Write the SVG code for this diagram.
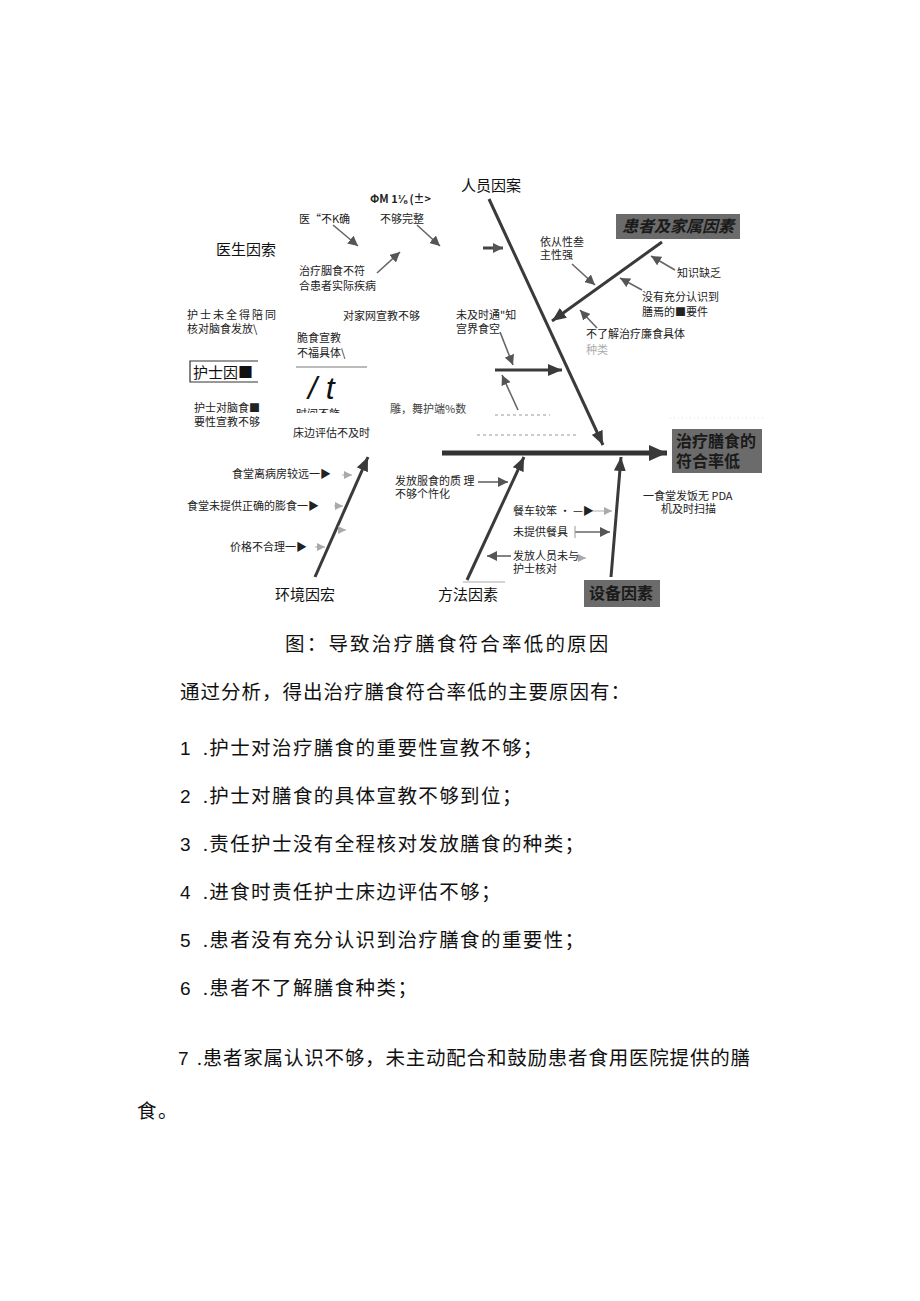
<svg xmlns="http://www.w3.org/2000/svg" width="920" height="1301" viewBox="0 0 920 1301">
<style>
.t{font-family:"Noto Sans CJK SC","Liberation Sans",sans-serif;font-size:11px;fill:#222}
.ts{letter-spacing:2px}
.cat{font-family:"Noto Sans CJK SC","Liberation Sans",sans-serif;font-size:15px;fill:#111}
.box{fill:#6b6b6b}
.bt{font-family:"Noto Sans CJK SC","Liberation Sans",sans-serif;font-size:16px;font-weight:bold;fill:#1a1a1a}
.body{font-family:"Liberation Serif","Noto Sans CJK SC",serif;font-size:19.5px;letter-spacing:1.4px;fill:#111}
.num{font-family:"Liberation Sans","Noto Sans CJK SC",sans-serif;font-size:19px;fill:#111;letter-spacing:0}
.main{stroke:#3a3a3a;stroke-width:3;fill:none}
.sm{stroke:#666;stroke-width:1.6;fill:none}
.fa{stroke:#bbb;stroke-width:1.2;fill:none}
</style>
<defs>
<marker id="ab" markerUnits="userSpaceOnUse" markerWidth="20" markerHeight="16" refX="18" refY="8" orient="auto"><path d="M0,0 L18,8 L0,16 z" fill="#3a3a3a"/></marker>
<marker id="am" markerUnits="userSpaceOnUse" markerWidth="16" markerHeight="12" refX="14" refY="6" orient="auto"><path d="M0,0 L14,6 L0,12 z" fill="#3a3a3a"/></marker>
<marker id="as" markerUnits="userSpaceOnUse" markerWidth="12" markerHeight="10" refX="10" refY="5" orient="auto"><path d="M0,0 L10,5 L0,10 z" fill="#555"/></marker>
<marker id="af" markerUnits="userSpaceOnUse" markerWidth="10" markerHeight="8" refX="8" refY="4" orient="auto"><path d="M0,0 L8,4 L0,8 z" fill="#aaa"/></marker>
<clipPath id="cut"><rect x="290" y="400" width="80" height="13"/></clipPath>
</defs>
<rect width="920" height="1301" fill="#fff"/>

<g id="connectors">
<line x1="442" y1="453" x2="667" y2="453" stroke="#333" stroke-width="5" marker-end="url(#ab)"/>
<line class="main" x1="489" y1="199" x2="603" y2="445" marker-end="url(#am)"/>
<line class="main" x1="662" y1="242" x2="552" y2="321" marker-end="url(#am)"/>
<line class="main" x1="315" y1="577" x2="368" y2="457" marker-end="url(#am)"/>
<line class="main" x1="467" y1="580" x2="524" y2="457" marker-end="url(#am)"/>
<line class="main" x1="611" y1="577" x2="621" y2="457" marker-end="url(#am)"/>
<line class="main" x1="495" y1="370" x2="562" y2="370" marker-end="url(#am)"/>
<line stroke="#444" stroke-width="3" x1="483" y1="248" x2="503" y2="248" marker-end="url(#as)"/>
<line class="sm" x1="333" y1="225" x2="358" y2="246" marker-end="url(#as)"/>
<line class="sm" x1="417" y1="225" x2="440" y2="246" marker-end="url(#as)"/>
<line class="sm" x1="377" y1="273" x2="400" y2="252" marker-end="url(#as)"/>
<line class="sm" x1="572" y1="264" x2="595" y2="285" marker-end="url(#as)"/>
<line class="sm" x1="675" y1="270" x2="651" y2="256" marker-end="url(#as)"/>
<line class="sm" x1="642" y1="290" x2="620" y2="278" marker-end="url(#as)"/>
<line class="sm" x1="597" y1="328" x2="580" y2="310" marker-end="url(#as)"/>
<line class="sm" x1="500" y1="332" x2="513" y2="365" marker-end="url(#as)"/>
<line class="sm" x1="518" y1="410" x2="502" y2="375" marker-end="url(#as)"/>
<line class="sm" x1="478" y1="482" x2="508" y2="482" marker-end="url(#as)"/>
<line class="sm" x1="575" y1="532" x2="610" y2="532" marker-end="url(#as)"/>
<line class="sm" x1="511" y1="556" x2="487" y2="556" marker-end="url(#as)"/>
<line class="fa" x1="585" y1="511" x2="612" y2="511" marker-end="url(#af)"/>
<line class="fa" x1="578" y1="558" x2="586" y2="558" marker-end="url(#af)"/>
<line class="fa" x1="342" y1="475" x2="352" y2="475" marker-end="url(#af)"/>
<line class="fa" x1="334" y1="506" x2="343" y2="506" marker-end="url(#af)"/>
<line class="fa" x1="338" y1="530" x2="346" y2="530" marker-end="url(#af)"/>
<line class="fa" x1="315" y1="547" x2="325" y2="547" marker-end="url(#af)"/>
<line x1="296" y1="367" x2="367" y2="367" stroke="#777" stroke-width="1"/>
<line x1="463" y1="582" x2="505" y2="582" stroke="#aaa" stroke-width="1.2"/>
<line x1="575" y1="526" x2="575" y2="538" stroke="#999" stroke-width="1"/>
<line x1="495" y1="415" x2="550" y2="415" stroke="#ccc" stroke-width="2" stroke-dasharray="3,3"/>
<line x1="477" y1="435" x2="577" y2="435" stroke="#ccc" stroke-width="2" stroke-dasharray="3,3"/>
<line x1="670" y1="418" x2="763" y2="418" stroke="#ddd" stroke-width="1" stroke-dasharray="1,3"/>
</g>

<g id="head">
<rect class="box" x="672" y="429" width="90" height="44"/>
<text class="bt" x="676" y="447" font-size="17">治疗膳食的</text>
<text class="bt" x="676" y="467" font-size="17">符合率低</text>
</g>

<g id="patient">
<rect class="box" x="616" y="214" width="124" height="25"/>
<text class="bt" x="622" y="232" font-style="italic">患者及家属因素</text>
<text class="t" x="540" y="246">依从性叁</text>
<text class="t" x="540" y="259">主性强</text>
<text class="t" x="677" y="277">知识缺乏</text>
<text class="t" x="642" y="301">没有充分认识到</text>
<text class="t" x="642" y="316">膳焉的■要件</text>
<text class="t" x="586" y="338">不了解治疗廉食具体</text>
<text class="t" x="586" y="354" style="fill:#aaa">种类</text>
</g>

<g id="staff">
<text class="cat" x="461" y="191">人员因案</text>
<text class="t" x="456" y="319">未及时通"知</text>
<text class="t" x="456" y="333">宫界食空</text>
</g>

<g id="doctor">
<text class="cat" x="216" y="255">医生因索</text>
<text class="t" x="370" y="203" font-size="9" font-weight="bold">ΦM 1⅛ (±&gt;</text>
<text class="t" x="299" y="223">医“不K确</text>
<text class="t" x="380" y="223">不够完整</text>
<text class="t" x="299" y="275">治疗胭食不符</text>
<text class="t" x="299" y="290">合患者实际疾病</text>
</g>

<g id="nurse">
<path d="M258,361 L190,361 L190,382 L258,382" fill="none" stroke="#333" stroke-width="1.2"/>
<text class="cat" x="193" y="378" font-size="17">护士因■</text>
<text class="t ts" x="187" y="319">护士未全得陪同</text>
<text class="t" x="187" y="333">核对脑食发放\</text>
<text class="t" x="343" y="320">对家网宣教不够</text>
<text class="t" x="297" y="342">脆食宣教</text>
<text class="t" x="297" y="357">不福具体\</text>
<text x="308" y="399" font-family="Liberation Sans,sans-serif" font-size="32" font-style="italic" fill="#111">/ t</text>
<text class="t" x="296" y="418" clip-path="url(#cut)">时间不飾</text>
<text class="t" x="390" y="413" style="fill:#444">雕，舞护端%数</text>
<text class="t" x="194" y="412">护士对脑食■</text>
<text class="t" x="194" y="426">要性宣教不够</text>
<text class="t" x="293" y="437" font-size="12">床边评估不及时</text>
</g>

<g id="environment">
<text class="cat" x="275" y="600">环境因宏</text>
<text class="t" x="232" y="478">食堂离病房较远一▶</text>
<text class="t" x="187" y="510">食堂未提供正确的膨食一▶</text>
<text class="t" x="230" y="551">价格不合理一▶</text>
</g>

<g id="method">
<text class="cat" x="438" y="600">方法因素</text>
<text class="t" x="395" y="485">发放服食的质 理</text>
<text class="t" x="395" y="498">不够个忤化</text>
<text class="t" x="513" y="515">餐车较笨 · —▶</text>
<text class="t" x="513" y="536">未提供餐具</text>
<text class="t" x="513" y="560">发放人员未与</text>
<text class="t" x="513" y="573">护士核对</text>
</g>

<g id="equipment">
<rect class="box" x="584" y="580" width="76" height="27"/>
<text class="bt" x="589" y="599">设备因素</text>
<text class="t" x="643" y="500">一食堂发饭无 PDA</text>
<text class="t" x="661" y="513">机及时扫描</text>
</g>

<g id="text">
<text class="body" x="285" y="651" font-size="21" style="letter-spacing:2.2px">图：导致治疗膳食符合率低的原因</text>
<text class="body" x="180" y="699" font-size="20" style="letter-spacing:1px">通过分析，得出治疗膳食符合率低的主要原因有：</text>
<text class="body" y="755"><tspan class="num" x="180">1</tspan><tspan x="203">.护士对治疗膳食的重要性宣教不够；</tspan></text>
<text class="body" y="803"><tspan class="num" x="180">2</tspan><tspan x="203">.护士对膳食的具体宣教不够到位；</tspan></text>
<text class="body" y="851"><tspan class="num" x="180">3</tspan><tspan x="203">.责任护士没有全程核对发放膳食的种类；</tspan></text>
<text class="body" y="899"><tspan class="num" x="180">4</tspan><tspan x="203">.进食时责任护士床边评估不够；</tspan></text>
<text class="body" y="947"><tspan class="num" x="180">5</tspan><tspan x="203">.患者没有充分认识到治疗膳食的重要性；</tspan></text>
<text class="body" y="995"><tspan class="num" x="180">6</tspan><tspan x="203">.患者不了解膳食种类；</tspan></text>
<text class="body" y="1065" style="letter-spacing:0.8px"><tspan class="num" x="178">7</tspan><tspan x="197">.患者家属认识不够，未主动配合和鼓励患者食用医院提供的膳</tspan></text>
<text class="body" x="137" y="1118">食。</text>
</g>
</svg>
